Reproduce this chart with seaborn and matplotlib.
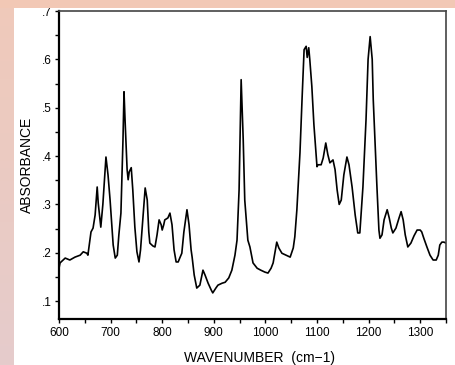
import numpy as np
import pandas as pd
import matplotlib
matplotlib.use("Agg")
import matplotlib.pyplot as plt
import seaborn as sns
from matplotlib.ticker import MultipleLocator, FuncFormatter
from matplotlib.patches import Rectangle

wavenumber = [600, 602, 606, 612, 621, 631, 641, 647, 654, 656, 660, 662, 666, 670, 674, 676,
              681, 685, 691, 695, 699, 705, 709, 713, 716, 720, 724, 726, 728, 732, 734, 736,
              740, 743, 747, 751, 755, 758, 763, 767, 771, 774, 776, 782, 786, 790, 794, 798,
              800, 803, 805, 811, 815, 819, 823, 827, 831, 834, 838, 842, 848, 852, 856, 858,
              862, 867, 873, 879, 883, 889, 895, 898, 904, 908, 916, 922, 929, 935, 941, 945,
              949, 953, 957, 960, 966, 970, 976, 984, 991, 999, 1005, 1011, 1015, 1022, 1026,
              1032, 1040, 1048, 1054, 1057, 1061, 1067, 1071, 1075, 1079, 1081, 1084, 1086,
              1090, 1094, 1100, 1102, 1108, 1112, 1117, 1121, 1125, 1131, 1135, 1139, 1143,
              1147, 1152, 1158, 1162, 1168, 1174, 1179, 1183, 1189, 1195, 1199, 1203, 1207,
              1209, 1212, 1216, 1220, 1222, 1226, 1230, 1236, 1240, 1244, 1247, 1253, 1259,
              1263, 1267, 1271, 1276, 1282, 1288, 1294, 1300, 1303, 1307, 1313, 1319, 1325,
              1331, 1335, 1338, 1342, 1346, 1350]
absorbance = [0.168, 0.179, 0.183, 0.189, 0.185, 0.191, 0.195, 0.202, 0.199, 0.195, 0.226, 0.243,
              0.251, 0.278, 0.336, 0.303, 0.253, 0.300, 0.398, 0.361, 0.309, 0.216, 0.189, 0.195,
              0.237, 0.282, 0.434, 0.533, 0.475, 0.372, 0.351, 0.367, 0.376, 0.330, 0.253, 0.202,
              0.181, 0.206, 0.278, 0.334, 0.309, 0.243, 0.220, 0.214, 0.212, 0.237, 0.268, 0.258,
              0.247, 0.258, 0.268, 0.272, 0.282, 0.258, 0.206, 0.181, 0.181, 0.189, 0.199, 0.243,
              0.289, 0.258, 0.206, 0.191, 0.154, 0.127, 0.133, 0.164, 0.154, 0.137, 0.123, 0.117,
              0.127, 0.133, 0.137, 0.139, 0.148, 0.164, 0.195, 0.226, 0.330, 0.558, 0.434, 0.309,
              0.226, 0.212, 0.179, 0.168, 0.164, 0.160, 0.158, 0.168, 0.179, 0.222, 0.210, 0.199,
              0.195, 0.191, 0.210, 0.233, 0.289, 0.407, 0.517, 0.620, 0.627, 0.604, 0.624, 0.600,
              0.544, 0.465, 0.378, 0.382, 0.382, 0.396, 0.427, 0.403, 0.386, 0.392, 0.372, 0.330,
              0.300, 0.309, 0.361, 0.398, 0.382, 0.336, 0.278, 0.241, 0.241, 0.336, 0.475, 0.600,
              0.647, 0.600, 0.517, 0.440, 0.340, 0.247, 0.230, 0.237, 0.268, 0.289, 0.272, 0.251,
              0.241, 0.251, 0.272, 0.285, 0.268, 0.237, 0.212, 0.220, 0.235, 0.247, 0.247, 0.243,
              0.230, 0.212, 0.195, 0.185, 0.185, 0.195, 0.216, 0.222, 0.222, 0.220]

x_ticks = [600, 700, 800, 900, 1000, 1100, 1200, 1300]
y_ticks = [0.1, 0.2, 0.3, 0.4, 0.5, 0.6, 0.7]

df = pd.DataFrame({"wn": wavenumber, "abs": absorbance})

sns.set_theme(style="white")
plt.rcParams["font.family"] = ["Liberation Sans", "DejaVu Sans"]

W, H = 456, 365
fig = plt.figure(figsize=(W / 100, H / 100), dpi=100)
fig.patch.set_facecolor("white")

# decorative background strips
grad_ax = fig.add_axes([0, 0, 14 / W, 1])
grad = np.linspace(0, 1, 256).reshape(-1, 1)
top_c = np.array([0.94, 0.79, 0.73])
bot_c = np.array([0.90, 0.80, 0.80])
img = top_c[None, None, :] * (1 - grad[:, :, None]) + bot_c[None, None, :] * grad[:, :, None]
grad_ax.imshow(img, aspect="auto", origin="upper", extent=[0, 1, 0, 1])
grad_ax.set_axis_off()
fig.patches.append(Rectangle((0, 1 - 8 / H), 1, 8 / H, transform=fig.transFigure,
                             facecolor="#F2C8B5", edgecolor="none", zorder=0))

ax = fig.add_axes([59 / W, 1 - 319 / H, (446 - 59) / W, (319 - 11) / H])
sns.lineplot(data=df, x="wn", y="abs", ax=ax, color="black", linewidth=1.2, sort=False)

ax.set_xlim(600, 1350)
ax.set_ylim(0.063, 0.7)
ax.set_xticks(x_ticks)
ax.set_yticks(y_ticks)
ax.xaxis.set_minor_locator(MultipleLocator(50))
ax.yaxis.set_minor_locator(MultipleLocator(0.05))
ax.yaxis.set_major_formatter(FuncFormatter(lambda v, p: f"{v:.1f}".lstrip("0")))
ax.tick_params(which="both", direction="out", length=3, width=1, colors="black",
               labelsize=8.5, bottom=True, left=True, pad=2)
ax.tick_params(axis="x", pad=3)

for s in ["left", "bottom"]:
    ax.spines[s].set_color("black")
    ax.spines[s].set_linewidth(1.6)
for s in ["top", "right"]:
    ax.spines[s].set_color("#444444")
    ax.spines[s].set_linewidth(1.2)

ax.set_xlabel("WAVENUMBER  (cm\u22121)", fontsize=10, labelpad=9, color="black")
ax.set_ylabel("ABSORBANCE", fontsize=10, labelpad=6, color="black")
ax.xaxis.set_label_coords(0.517, -0.105)

fig.savefig("out.png", dpi=100)
